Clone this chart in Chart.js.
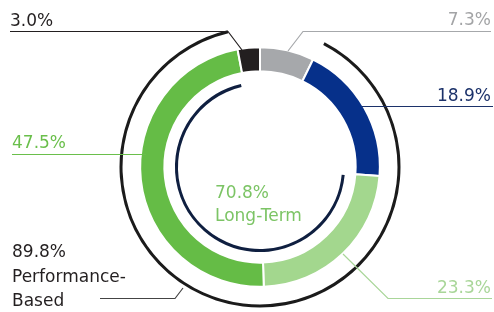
<!DOCTYPE html>
<html>
<head>
<meta charset="utf-8">
<script src="https://cdn.jsdelivr.net/npm/chart.js@4.4.1/dist/chart.umd.min.js"></script>
<style>
  html, body { margin:0; padding:0; background:#fff; }
  #wrap { position:relative; width:494px; height:312px; overflow:hidden; }
  #chart { position:absolute; left:0; top:0; }
  .lbl { position:absolute; font-family:"DejaVu Sans", sans-serif; font-size:17px; line-height:17px; white-space:nowrap; }
</style>
</head>
<body>
<div id="wrap">
  <canvas id="chart" width="494" height="312"></canvas>
  <div class="lbl" style="left:10px; top:11.6px; color:#231f20;">3.0%</div>
  <div class="lbl" style="right:3px; top:10.6px; color:#a3a4a6;">7.3%</div>
  <div class="lbl" style="right:3px; top:86.6px; color:#1c326a;">18.9%</div>
  <div class="lbl" style="left:12px; top:133.6px; color:#6abf4b;">47.5%</div>
  <div class="lbl" style="right:3px; top:278.6px; color:#a9d699;">23.3%</div>
  <div class="lbl" style="left:12px; top:239px; line-height:24.5px; color:#231f20;">89.8%<br>Performance-<br>Based</div>
  <div class="lbl" style="left:215px; top:180.6px; line-height:23px; color:#7cc465;">70.8%<br>Long-Term</div>
</div>
<script>
// pay mix segments, clockwise from 12 o'clock
const segLabels = ["Other", "Salary", "Long-Term Cash", "Long-Term Equity", "Benefits"];
const segValues = [7.3, 18.9, 23.3, 47.5, 3.0];
const segColors = ["#a6a8ab", "#06308a", "#a3d78e", "#65bc46", "#231f20"];

// bracket arcs (start / end, in % of the circle)
const perfBased = 89.8;
const perfArc = [7.6, 96.3];
const longTerm = 70.8;
const longArc = [26.5, 96.4];

// leader lines: [points, colour]
const leaders = [
  [[[10,31.5],[228,31.5],[242,50]], "#231f20"],
  [[[491,31.5],[303,31.5],[288,51]], "#a6a8ab"],
  [[[493,106.5],[362,106.5]], "#1c326a"],
  [[[12,154.5],[146,154.5]], "#6abf4b"],
  [[[492,298.5],[388,298.5],[343,254]], "#a9d699"],
  [[[100,298.5],[175,298.5],[183,288]], "#444"]
];

function arcData(a){ return [a[0], a[1]-a[0], 100-a[1]]; }
const clear = "rgba(0,0,0,0)";

const leaderPlugin = {
  id: "leaders",
  afterDatasetsDraw(chart){
    const ctx = chart.ctx;
    ctx.save();
    ctx.lineWidth = 1.2;
    leaders.forEach(([pts, col])=>{
      ctx.strokeStyle = col;
      ctx.beginPath();
      pts.forEach((p,i)=> i ? ctx.lineTo(p[0],p[1]) : ctx.moveTo(p[0],p[1]));
      ctx.stroke();
    });
    ctx.restore();
  }
};

new Chart(document.getElementById("chart"), {
  type: "doughnut",
  data: {
    labels: segLabels,
    datasets: [
      { data: arcData(perfArc), backgroundColor: [clear, "#1b1b1b", clear], borderWidth: 0, weight: 3 },
      { data: [100], backgroundColor: [clear], borderWidth: 0, weight: 17.5 },
      { data: segValues, backgroundColor: segColors, borderColor: "#fff", borderWidth: 2, weight: 24 },
      { data: [100], backgroundColor: [clear], borderWidth: 0, weight: 10.5 },
      { data: arcData(longArc), backgroundColor: [clear, "#0f1f40", clear], borderWidth: 0, weight: 3 }
    ]
  },
  options: {
    responsive: false,
    animation: false,
    events: [],
    cutout: "58.4%",
    layout: { padding: { left: 119.5, right: 93.5, top: 26.5, bottom: 4.5 } },
    plugins: { legend: { display: false }, tooltip: { enabled: false } }
  },
  plugins: [leaderPlugin]
});
</script>
</body>
</html>
